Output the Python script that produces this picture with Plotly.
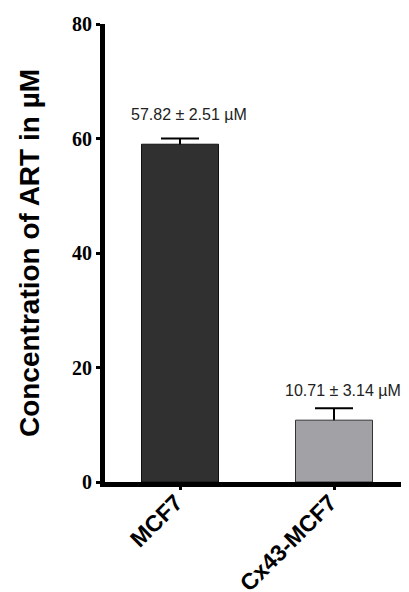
import plotly.graph_objects as go

categories = ["MCF7", "Cx43-MCF7"]
means = [59.0, 10.8]
errors_up = [1.0, 2.1]
bar_colors = ["#303030", "#a2a2a6"]
bar_line_colors = ["#111111", "#333333"]
value_labels = ["57.82 \u00b1 2.51 \u00b5M", "10.71 \u00b1 3.14 \u00b5M"]
y_ticks = [0, 20, 40, 60, 80]

x_range = [-0.487, 1.487]
y_range = [0, 80]
label_yshifts = [24, 18]

fig = go.Figure()
# error bars on the base axes (drawn below the bars)
fig.add_trace(go.Scatter(
    x=categories, y=means, mode="markers",
    marker=dict(size=1, opacity=0),
    error_y=dict(type="data", array=errors_up, color="black", thickness=2, width=19),
    showlegend=False, hoverinfo="skip", xaxis="x", yaxis="y",
))
# bars on an overlaying axis pair so they cover the lower half of the error bars
fig.add_trace(go.Bar(
    x=categories, y=means, width=0.5,
    marker=dict(color=bar_colors, line=dict(color=bar_line_colors, width=1)),
    showlegend=False, xaxis="x2", yaxis="y2",
))

for cat, m, e, lab, ys in zip(categories, means, errors_up, value_labels, label_yshifts):
    fig.add_annotation(x=cat, y=m + e, text=lab, showarrow=False,
                       yshift=ys, xshift=9, yanchor="middle",
                       font=dict(family="Arial, Liberation Sans", size=16, color="#222222"))

# page body has an 8px margin, so the figure is 8px smaller than the window
fig.update_layout(
    width=401, height=584,
    margin=dict(l=97, r=0, t=16, b=110),
    plot_bgcolor="white", paper_bgcolor="white",
    xaxis=dict(
        range=x_range, automargin=False,
        showline=True, linecolor="black", linewidth=5,
        ticks="outside", ticklen=3, tickwidth=3, tickcolor="black",
        tickangle=-45, ticklabelstandoff=-10, ticklabelshift=-4,
        tickfont=dict(family="Arial, Liberation Sans", size=23, color="black", weight="bold"),
        showgrid=False, zeroline=False,
    ),
    yaxis=dict(
        range=y_range, automargin=False,
        tickvals=y_ticks,
        showline=True, linecolor="black", linewidth=5,
        ticks="outside", ticklen=4, tickwidth=3, tickcolor="black",
        tickfont=dict(family="Liberation Serif, Times New Roman", size=20, color="black", weight="bold"),
        showgrid=False, zeroline=False,
        title=dict(text="Concentration of ART in \u00b5M", standoff=26,
                   font=dict(family="Arial, Liberation Sans", size=28, color="black", weight="bold")),
    ),
    xaxis2=dict(range=x_range, overlaying="x", visible=False, automargin=False),
    yaxis2=dict(range=y_range, overlaying="y", visible=False, automargin=False),
)

fig.write_html("out.html")
